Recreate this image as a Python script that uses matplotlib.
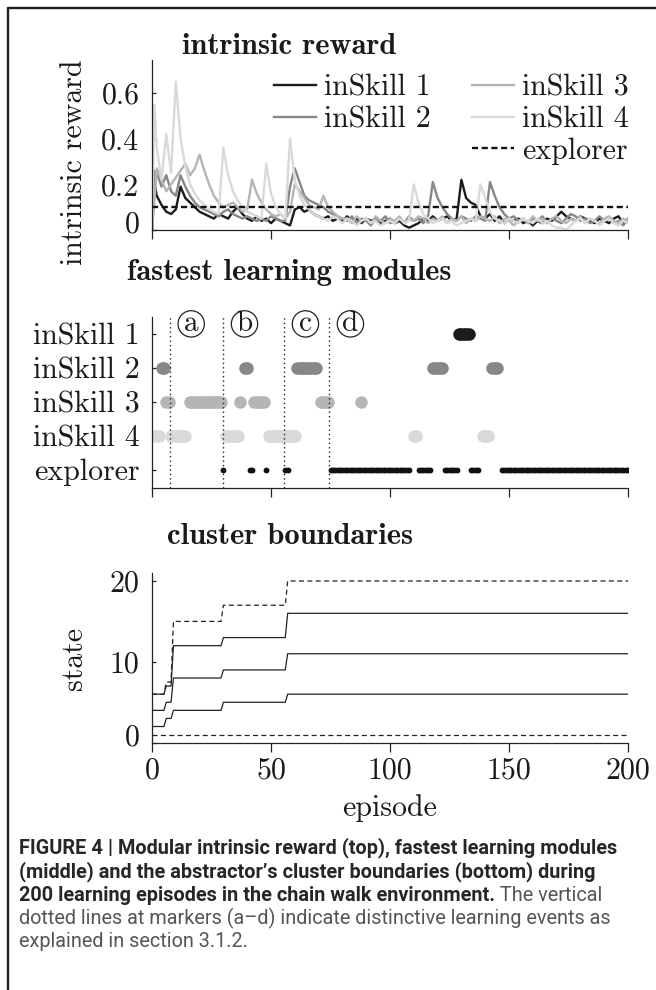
import numpy as np
import matplotlib
matplotlib.use('Agg')
import matplotlib.pyplot as plt
from matplotlib.lines import Line2D
from matplotlib.transforms import ScaledTranslation
from matplotlib.font_manager import FontProperties, fontManager

# ---------------- data ----------------
episodes = [0, 1] + list(range(2, 201, 2))

inskill1_reward = [0.0, 0.21,
    0.15, 0.11, 0.08, 0.07, 0.09, 0.19, 0.14, 0.12, 0.10, 0.08,
    0.07, 0.06, 0.05, 0.07, 0.06, 0.05, 0.08, 0.10, 0.07, 0.05,
    0.04, 0.06, 0.04, 0.05, 0.03, 0.05, 0.04, 0.03, 0.02, 0.09,
    0.10, 0.08, 0.09, 0.07, 0.06, 0.05, 0.06, 0.04, 0.05, 0.04,
    0.06, 0.04, 0.05, 0.03, 0.05, 0.04, 0.05, 0.03, 0.04, 0.05,
    0.03, 0.04, 0.02, 0.01, 0.02, 0.03, 0.05, 0.04, 0.06, 0.04,
    0.05, 0.06, 0.04, 0.05, 0.22, 0.14, 0.12, 0.11, 0.06, 0.05,
    0.07, 0.04, 0.06, 0.03, 0.05, 0.04, 0.05, 0.03, 0.04, 0.02,
    0.04, 0.03, 0.05, 0.04, 0.06, 0.08, 0.06, 0.05, 0.04, 0.06,
    0.05, 0.04, 0.03, 0.05, 0.04, 0.03, 0.05, 0.06, 0.03, 0.04]

inskill2_reward = [0.0, 0.26,
    0.25, 0.19, 0.24, 0.17, 0.15, 0.24, 0.19, 0.15, 0.12, 0.10,
    0.09, 0.08, 0.07, 0.06, 0.08, 0.09, 0.07, 0.06, 0.05, 0.06,
    0.05, 0.04, 0.05, 0.04, 0.06, 0.05, 0.04, 0.04, 0.19, 0.27,
    0.21, 0.15, 0.13, 0.12, 0.11, 0.10, 0.08, 0.07, 0.06, 0.05,
    0.04, 0.06, 0.03, 0.05, 0.04, 0.02, 0.05, 0.04, 0.06, 0.03,
    0.04, 0.05, 0.03, 0.06, 0.04, 0.05, 0.03, 0.06, 0.21, 0.14,
    0.10, 0.07, 0.05, 0.04, 0.06, 0.05, 0.04, 0.06, 0.05, 0.04,
    0.21, 0.15, 0.10, 0.07, 0.05, 0.06, 0.04, 0.05, 0.03, 0.05,
    0.04, 0.06, 0.03, 0.05, 0.04, 0.03, 0.05, 0.07, 0.06, 0.04,
    0.05, 0.03, 0.04, 0.06, 0.04, 0.05, 0.03, 0.04, 0.02, 0.05]

inskill3_reward = [0.0, 0.12,
    0.27, 0.22, 0.17, 0.20, 0.23, 0.26, 0.29, 0.24, 0.27, 0.33,
    0.26, 0.20, 0.15, 0.12, 0.10, 0.11, 0.12, 0.10, 0.08, 0.09,
    0.22, 0.16, 0.12, 0.09, 0.07, 0.06, 0.07, 0.05, 0.08, 0.20,
    0.17, 0.14, 0.11, 0.10, 0.09, 0.15, 0.10, 0.08, 0.06, 0.05,
    0.05, 0.03, 0.06, 0.04, 0.05, 0.03, 0.06, 0.04, 0.03, 0.05,
    0.04, 0.06, 0.03, 0.05, 0.04, 0.06, 0.05, 0.03, 0.05, 0.04,
    0.06, 0.03, 0.05, 0.04, 0.06, 0.03, 0.05, 0.04, 0.06, 0.05,
    0.04, 0.06, 0.03, 0.05, 0.04, 0.02, 0.04, 0.05, 0.03, 0.06,
    0.04, 0.05, 0.03, 0.05, 0.06, 0.04, 0.03, 0.05, 0.04, 0.06,
    0.03, 0.05, 0.04, 0.03, 0.05, 0.06, 0.04, 0.03, 0.05, 0.04]

inskill4_reward = [0.0, 0.55,
    0.36, 0.22, 0.42, 0.25, 0.65, 0.40, 0.28, 0.20, 0.16, 0.13,
    0.11, 0.09, 0.08, 0.07, 0.36, 0.24, 0.17, 0.13, 0.10, 0.08,
    0.07, 0.06, 0.05, 0.29, 0.16, 0.10, 0.07, 0.05, 0.40, 0.22,
    0.15, 0.11, 0.09, 0.07, 0.06, 0.05, 0.04, 0.06, 0.05, 0.03,
    0.05, 0.04, 0.02, 0.04, 0.05, 0.03, 0.04, 0.02, 0.03, 0.04,
    0.03, 0.05, 0.03, 0.04, 0.20, 0.12, 0.07, 0.05, 0.03, 0.04,
    0.05, 0.03, 0.04, 0.02, 0.03, 0.04, 0.05, 0.04, 0.20, 0.14,
    0.08, 0.05, 0.04, 0.03, 0.05, 0.04, 0.03, 0.05, 0.04, 0.03,
    0.05, 0.03, 0.04, 0.02, 0.01, 0.01, 0.00, 0.02, 0.04, 0.05,
    0.03, 0.05, 0.04, 0.02, 0.04, 0.05, 0.03, 0.02, 0.04, 0.03]

explorer_reward = 0.1

module_names = ['inSkill 1', 'inSkill 2', 'inSkill 3', 'inSkill 4', 'explorer']
module_colors = ['#1c1c1c', '#878787', '#b5b5b5', '#d9d9d9']

# fastest-learning module runs (first episode, last episode)
inskill1_runs = [(129, 133)]
inskill2_runs = [(4, 5), (39, 40), (61, 69), (118, 122), (143, 145)]
inskill3_runs = [(6, 7), (16, 29), (37, 37), (43, 47), (71, 74), (88, 88)]
inskill4_runs = [(1, 3), (8, 14), (31, 36), (49, 60), (110, 111), (139, 141)]
explorer_runs = [(30, 30), (41, 42), (48, 48), (56, 57), (75, 108), (112, 117),
                 (123, 128), (134, 137), (147, 200)]

event_episodes = [7.6, 30, 55.6, 74.5]
event_letters = ['a', 'b', 'c', 'd']

# cluster boundaries
boundary_episodes = [0, 5, 6, 8, 9, 29, 30, 56, 57, 200]
max_state = [6, 6, 7.5, 7.5, 15, 15, 17, 17, 20, 20]
boundary3 = [6, 6, 7, 7, 12, 12, 13, 13, 16, 16]
boundary2 = [4, 4, 5, 5, 8, 8, 9, 9, 11, 11]
boundary1 = [2, 2, 3, 3, 4, 4, 5, 5, 6, 6]
min_state = 1

x_ticks = [0, 50, 100, 150, 200]

# ---------------- layout ----------------
W, H, DPI = 656, 990, 100
plt.rcParams['font.family'] = ['cmr10']
plt.rcParams['font.size'] = 21.5
plt.rcParams['axes.unicode_minus'] = False
plt.rcParams['axes.formatter.use_mathtext'] = True
TXT = '#1a1a1a'

fig = plt.figure(figsize=(W / DPI, H / DPI), dpi=DPI)
fig.patch.set_facecolor('white')


def fx(px):
    return px / W


def fy(py):
    return 1 - py / H


def make_axes(top, bottom):
    return fig.add_axes([fx(152), fy(bottom), fx(628) - fx(152), (bottom - top) / H])


ax1 = make_axes(60, 230)
ax2 = make_axes(316.7, 487.7)
ax3 = make_axes(573.3, 742.7)

for ax in (ax1, ax2, ax3):
    for s in ('top', 'right'):
        ax.spines[s].set_visible(False)
    for s in ('left', 'bottom'):
        ax.spines[s].set_linewidth(0.9)
        ax.spines[s].set_color('#222222')
    ax.set_xlim(0, 200)
    ax.set_xticks(x_ticks)
    ax.tick_params(axis='x', direction='out', length=6.5, width=0.9, color='#222222',
                   pad=4, labelcolor=TXT)
    ax.tick_params(axis='y', direction='in', length=3, width=0.9, color='#222222',
                   pad=9, labelcolor=TXT)
    ax.set_facecolor('none')

# ---- top panel ----
series = [inskill1_reward, inskill2_reward, inskill3_reward, inskill4_reward]
handles = []
for name, vals, col in zip(module_names[:4], series, module_colors):
    h, = ax1.plot(episodes, vals, color=col, lw=1.7, solid_joinstyle='round')
    handles.append(h)
hx, = ax1.plot([episodes[0], episodes[-1]], [explorer_reward, explorer_reward],
               color='#111111', lw=1.7, ls=(0, (2.6, 1.5)))
ax1.set_ylim(0, 0.745)
ax1.set_yticks([0, 0.2, 0.4, 0.6], ['0', '0.2', '0.4', '0.6'])
ax1.set_xticklabels([])
ax1.set_ylabel('intrinsic reward', color=TXT)
ax1.yaxis.set_label_coords(-0.134, 0.40)

blank = Line2D([], [], alpha=0)
leg = ax1.legend([handles[0], handles[1], blank, handles[2], handles[3], hx],
                 ['inSkill 1', 'inSkill 2', '', 'inSkill 3', 'inSkill 4', 'explorer'],
                 ncol=2, frameon=False, loc='upper left',
                 bbox_to_anchor=(fx(274), fy(74)), bbox_transform=fig.transFigure,
                 borderpad=0, borderaxespad=0, handlelength=1.4, handletextpad=0.27,
                 columnspacing=1.4, labelspacing=0.14,
                 prop=FontProperties(family='cmr10', size=21.5))
for t in leg.get_texts():
    t.set_color(TXT)

# ---- middle panel ----
all_runs = [inskill1_runs, inskill2_runs, inskill3_runs, inskill4_runs, explorer_runs]
row_colors = module_colors + ['#111111']
for row, (runs, col) in enumerate(zip(all_runs, row_colors), start=1):
    eps = np.concatenate([np.arange(a, b + 1) for a, b in runs])
    ms = 4.2 if row == 5 else 9.0
    ax2.plot(eps, np.full(len(eps), row), 'o', ms=ms, color=col, mec='none', zorder=2)
ax2.set_ylim(5.53, 0.5)
ax2.set_yticks(range(1, 6), module_names)
ax2.set_xticklabels([])
for ep, letter in zip(event_episodes, event_letters):
    ax2.axvline(ep, color='#222222', lw=1.0, ls=(0, (1, 2.2)), zorder=3)
    ax2.annotate(letter, xy=(ep, 0.958), xycoords=('data', 'axes fraction'),
                 xytext=(15.2, 0), textcoords='offset points', ha='center', va='center',
                 fontsize=21, color=TXT, annotation_clip=False,
                 bbox=dict(boxstyle='circle,pad=0.0', fc='none', ec='#222222', lw=0.9))

# ---- bottom panel ----
for vals in (boundary1, boundary2, boundary3):
    ax3.plot(boundary_episodes, vals, color='#222222', lw=0.9)
ax3.plot(boundary_episodes, max_state, color='#222222', lw=0.9, ls=(0, (4, 2.7)))
ax3.plot([boundary_episodes[0], boundary_episodes[-1]], [min_state, min_state],
         color='#222222', lw=0.9, ls=(0, (4, 2.7)))
ax3.set_ylim(0, 20.95)
ax3.set_yticks([0, 10, 20], ['0', '10', '20'])
ax3.set_xticklabels([str(v) for v in x_ticks])
ax3.set_ylabel('state', color=TXT)
ax3.yaxis.set_label_coords(-0.134, 0.5)
ax3.set_xlabel('episode', color=TXT)
ax3.xaxis.set_label_coords(0.5, -0.305)

# the "0" labels sit slightly higher in the original
shift = ScaledTranslation(0, 8 / DPI, fig.dpi_scale_trans)
for ax in (ax1, ax3):
    lab = ax.yaxis.get_major_ticks()[0].label1
    lab.set_transform(lab.get_transform() + shift)

# ---- titles ----
for txt, x, yb in (('intrinsic reward', 289, 53.5),
                   ('fastest learning modules', 289, 280.5),
                   ('cluster boundaries', 290, 544)):
    fig.text(fx(x), fy(yb), txt, ha='center', va='baseline', fontfamily='cmb10',
             fontsize=22, color=TXT)

# ---- frame ----
fig.add_artist(Line2D([fx(7.5), 1.0], [fy(7.5), fy(7.5)], color='#231f20', lw=1.7,
                      transform=fig.transFigure, solid_capstyle='butt'))
fig.add_artist(Line2D([fx(7.5), fx(7.5)], [fy(6.7), 0.0], color='#231f20', lw=1.7,
                      transform=fig.transFigure, solid_capstyle='butt'))

# ---- caption ----
installed = {f.name for f in fontManager.ttflist}
if 'Liberation Sans Narrow' in installed:
    CAP_FONT = ['Liberation Sans Narrow', 'DejaVu Sans']
else:
    CAP_FONT = ['Roboto', 'DejaVu Sans']
BOLD_C, REG_C = '#262626', '#555555'
caption_lines = [
    [("FIGURE 4 | Modular intrinsic reward (top), fastest learning modules", 'bold')],
    [("(middle) and the abstractor\u2019s cluster boundaries (bottom) during", 'bold')],
    [("200 learning episodes in the chain walk environment.", 'bold'),
     (" The vertical", 'normal')],
    [("dotted lines at markers (a\u2013d) indicate distinctive learning events as", 'normal')],
    [("explained in section 3.1.2.", 'normal')],
]
caption_baselines = [853, 877.3, 900.7, 924, 947.3]

renderer = fig.canvas.get_renderer()
probe = fig.text(0, 0, caption_lines[0][0][0], fontfamily=CAP_FONT, fontweight='bold',
                 fontsize=12)
w12 = probe.get_window_extent(renderer).width
probe.remove()
cap_size = 12 * 594 / w12

for parts, yb in zip(caption_lines, caption_baselines):
    last = None
    for text, weight in parts:
        col = BOLD_C if weight == 'bold' else REG_C
        if last is None:
            last = fig.text(fx(19), fy(yb), text, ha='left', va='baseline',
                            fontfamily=CAP_FONT, fontweight=weight, fontsize=cap_size,
                            color=col)
        else:
            last = fig.add_artist(matplotlib.text.Annotation(
                text, xy=(1, 0), xycoords=last, ha='left', va='bottom',
                fontfamily=CAP_FONT, fontweight=weight, fontsize=cap_size,
                color=col, annotation_clip=False))

fig.savefig('out.png', dpi=DPI)
